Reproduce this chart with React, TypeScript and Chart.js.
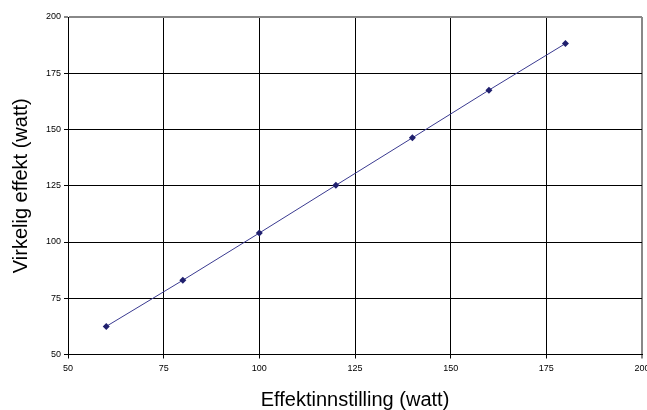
import React, { useEffect, useRef } from "react";
import { Chart, registerables } from "chart.js";

Chart.register(...registerables);

const xValues = [60, 80, 100, 120, 140, 160, 180];
const yValues = [62.5, 83, 104, 125.2, 146.3, 167.5, 188.2];
const axisMin = 50;
const axisMax = 200;
const axisStep = 25;
const xTitle = "Effektinnstilling (watt)";
const yTitle = "Virkelig effekt (watt)";

export default function App() {
  const ref = useRef<HTMLCanvasElement | null>(null);
  useEffect(() => {
    if (!ref.current) return;
    const font = "'Liberation Sans', Arial, sans-serif";
    const chart = new Chart(ref.current, {
      type: "line",
      data: {
        datasets: [
          {
            data: xValues.map((x, i) => ({ x, y: yValues[i] })),
            borderColor: "#3a3a90",
            borderWidth: 1,
            pointStyle: "rectRot",
            pointRadius: 3.5,
            pointBackgroundColor: "#20206e",
            pointBorderColor: "#20206e",
            pointBorderWidth: 0,
            tension: 0,
            fill: false,
          },
        ],
      },
      options: {
        responsive: false,
        animation: false,
        layout: { padding: { top: 17, right: 5, left: 0, bottom: 0 } },
        plugins: { legend: { display: false }, tooltip: { enabled: false } },
        scales: {
          x: {
            type: "linear",
            min: axisMin,
            max: axisMax,
            ticks: {
              stepSize: axisStep,
              color: "#000",
              font: { family: font, size: 9 },
              padding: 5,
              maxRotation: 0,
            },
            grid: {
              color: (c: any) => (c.tick && c.tick.value === axisMax ? "#888" : "#000"),
              lineWidth: (c: any) => (c.tick && c.tick.value === axisMax ? 2 : 1),
              tickLength: 4,
            },
            border: { color: "#000", width: 1 },
            title: {
              display: true,
              text: xTitle,
              color: "#000",
              font: { family: font, size: 20 },
              padding: { top: 0, bottom: -2 },
            },
            afterFit: (s: any) => {
              s.height = 55.5;
              s.paddingLeft = 0;
              s.paddingRight = 0;
            },
          },
          y: {
            type: "linear",
            min: axisMin,
            max: axisMax,
            ticks: {
              stepSize: axisStep,
              color: "#000",
              font: { family: font, size: 9 },
              padding: 3,
            },
            grid: {
              color: (c: any) => (c.tick && c.tick.value === axisMax ? "#888" : "#000"),
              lineWidth: (c: any) => (c.tick && c.tick.value === axisMax ? 2 : 1),
              tickLength: 4,
            },
            border: { color: "#000", width: 1 },
            title: {
              display: true,
              text: yTitle,
              color: "#000",
              font: { family: font, size: 20 },
              padding: { top: 9, bottom: 0 },
            },
            afterFit: (s: any) => {
              s.width = 68;
              s.paddingTop = 0;
              s.paddingBottom = 0;
            },
          },
        },
      },
    });
    return () => chart.destroy();
  }, []);
  return (
    <div style={{ position: "absolute", left: 0, top: 0, width: 647, height: 410, background: "#fff" }}>
      <canvas ref={ref} width={647} height={410} style={{ display: "block" }} />
    </div>
  );
}
